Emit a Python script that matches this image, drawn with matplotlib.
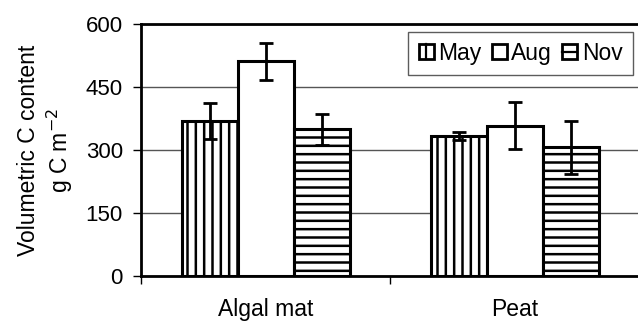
import matplotlib
matplotlib.use("Agg")
import matplotlib.pyplot as plt
from matplotlib.patches import Patch, Rectangle
from matplotlib.lines import Line2D
from matplotlib.legend_handler import HandlerBase
import numpy as np

categories = ["Algal mat", "Peat"]
series = ["May", "Aug", "Nov"]
values = {
    "May": [370, 333],
    "Aug": [512, 358],
    "Nov": [349, 307],
}
errors = {
    "May": [43, 10],
    "Aug": [44, 56],
    "Nov": [37, 63],
}
hatches = {"May": "||", "Aug": "", "Nov": "--"}
yticks = [0, 150, 300, 450, 600]

plt.rcParams['font.family'] = ['Liberation Sans', 'DejaVu Sans']
plt.rcParams['hatch.linewidth'] = 1.8
plt.rcParams['hatch.color'] = 'black'


class SquareHandler(HandlerBase):
    def create_artists(self, legend, orig_handle, xdescent, ydescent, width, height,
                       fontsize, trans):
        side = min(width, height)
        x0 = -xdescent + (width - side) / 2
        y0 = -ydescent + (height - side) / 2
        rect = Rectangle((x0, y0), side, side, facecolor='white', edgecolor='black',
                         linewidth=2, transform=trans)
        arts = [rect]
        h = orig_handle.get_hatch() or ""
        if "|" in h:
            arts.append(Line2D([x0 + side / 2] * 2, [y0, y0 + side], color='black',
                               linewidth=1.6, transform=trans))
        if "-" in h:
            arts.append(Line2D([x0, x0 + side], [y0 + side / 2] * 2, color='black',
                               linewidth=1.6, transform=trans))
        return arts


fig = plt.figure(figsize=(6.38, 3.21), dpi=100)
ax = fig.add_axes([0.221, 0.140, 0.782, 0.785])

centers = np.arange(len(categories)) + 0.5
width = 0.225
offsets = [-width, 0, width]
for s, off in zip(series, offsets):
    ax.bar(centers + off, values[s], width, color='white', edgecolor='black',
           linewidth=2.2, hatch=hatches[s], label=s, zorder=3)
    ax.errorbar(centers + off, values[s], yerr=errors[s], fmt='none', ecolor='black',
                elinewidth=2, capsize=5, capthick=2, zorder=4)

ax.set_xlim(0, 2)
ax.set_ylim(0, 600)
ax.set_yticks(yticks)
ax.set_yticklabels([str(t) for t in yticks], fontsize=16)
ax.yaxis.grid(True, color='#555555', linewidth=1, zorder=0)
ax.set_axisbelow(True)

ax.set_xticks([0, 1, 2])
ax.set_xticklabels([])
ax.set_xticks(centers, minor=True)
ax.set_xticklabels(categories, minor=True, fontsize=16.5)
ax.tick_params(axis='x', which='minor', length=0, pad=16)
ax.tick_params(axis='x', which='major', length=6, width=1, direction='out')
ax.tick_params(axis='y', length=6, width=1, direction='out', pad=7)

for side in ['left', 'bottom', 'top']:
    ax.spines[side].set_linewidth(2)
    ax.spines[side].set_color('black')
ax.spines['right'].set_visible(False)

ax.set_ylabel("Volumetric C content\ng C m$^{-2}$", fontsize=16.5, linespacing=1.2, labelpad=8)

handles = [Patch(facecolor='white', edgecolor='black', hatch=hatches[s], label=s)
           for s in series]
leg = ax.legend(handles=handles, loc='upper right', ncol=3, fontsize=16.5, frameon=True,
                fancybox=False, handlelength=0.65, handleheight=0.65, handletextpad=0.2,
                columnspacing=0.45, borderpad=0.45, bbox_to_anchor=(0.986, 0.97),
                borderaxespad=0, handler_map={Patch: SquareHandler()})
leg.get_frame().set_edgecolor('#333333')
leg.get_frame().set_linewidth(1)

fig.savefig("out.png", dpi=100)
